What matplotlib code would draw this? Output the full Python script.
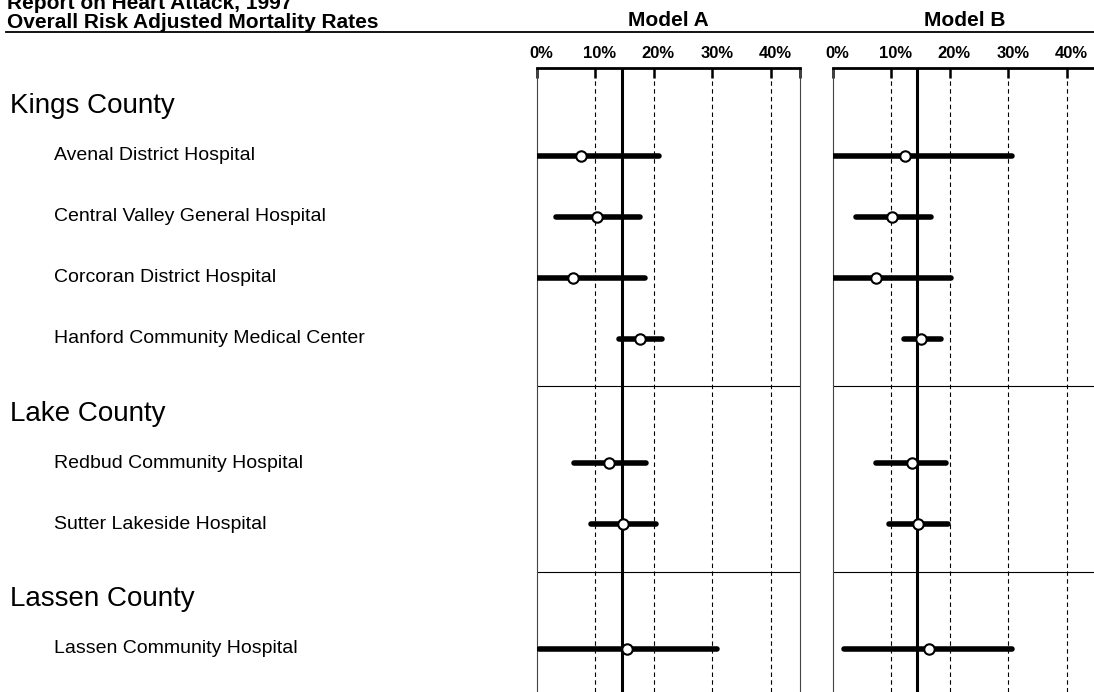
import matplotlib
matplotlib.use("Agg")
import matplotlib.pyplot as plt
from matplotlib.lines import Line2D
from matplotlib.transforms import blended_transform_factory, ScaledTranslation

plt.rcParams['font.family'] = ['Liberation Sans', 'DejaVu Sans']

# data (percent)
counties = ["Kings County", "Lake County", "Lassen County"]
hospitals = ["Avenal District Hospital",
             "Central Valley General Hospital",
             "Corcoran District Hospital",
             "Hanford Community Medical Center",
             "Redbud Community Hospital",
             "Sutter Lakeside Hospital",
             "Lassen Community Hospital"]
county_idx = [0, 0, 0, 0, 1, 1, 2]

rate_a = [7.6, 10.3, 6.1, 17.7, 12.4, 14.7, 15.4]
low_a = [0.0, 3.3, 0.0, 14.0, 6.3, 9.3, 0.3]
high_a = [20.8, 17.6, 18.4, 21.4, 18.6, 20.3, 30.8]

rate_b = [12.3, 10.1, 7.3, 15.1, 13.5, 14.6, 16.5]
low_b = [0.0, 3.9, 0.0, 12.1, 7.3, 9.5, 1.9]
high_b = [30.6, 16.7, 20.2, 18.4, 19.3, 19.6, 30.6]

state_avg = [14.6, 14.4]
models = ["Model A", "Model B"]
ticks = [0, 10, 20, 30, 40]

W, H = 1094, 692
fig = plt.figure(figsize=(W / 100, H / 100), dpi=100)


def px_axes(x0, x1, y0, y1):
    return fig.add_axes([x0 / W, 1 - y1 / H, (x1 - x0) / W, (y1 - y0) / H])


# row layout, one unit per hospital row
row_y = []
header_y = []
seps = []
start = 0.18
for c in range(len(counties)):
    header_y.append(start + 0.45)
    y = start + 1.26
    for i, ci in enumerate(county_idx):
        if ci == c:
            row_y.append(y)
            y += 1
    start = y - 1 + 0.78
    seps.append(start)
y_bottom = (H - 68) / 61.0

axA = px_axes(537, 800, 68, H)
axB = px_axes(833, 1096, 68, H)

for ax, rate, lo, hi, avg, name in [(axA, rate_a, low_a, high_a, state_avg[0], models[0]),
                                    (axB, rate_b, low_b, high_b, state_avg[1], models[1])]:
    ax.set_xlim(0, 45)
    ax.set_ylim(y_bottom, 0)
    for t in ticks[1:]:
        ax.axvline(t, color='black', lw=0.8, ls=(0, (4, 3)), zorder=1)
    ax.axvline(avg, color='black', lw=2.2, zorder=2)
    for s in seps[:-1]:
        ax.axhline(s, color='black', lw=0.8, zorder=1)
    ax.hlines(row_y, lo, hi, color='black', lw=4, capstyle='round', zorder=3)
    ax.plot(rate, row_y, 'o', ms=7.5, mfc='white', mec='black', mew=1.5, zorder=5)

    ax.spines['top'].set_linewidth(2)
    for side in ['left', 'right']:
        ax.spines[side].set_linewidth(0.8)
        ax.spines[side].set_color('#444444')
    ax.spines['bottom'].set_visible(False)
    ax.set_yticks([])
    ax.xaxis.tick_top()
    ax.set_xticks(ticks + [45])
    ax.set_xticklabels(["%d%%" % t for t in ticks] + [""])
    ax.tick_params(axis='x', direction='in', length=7, width=1.8, pad=5, labelsize=12)
    for lab in ax.get_xticklabels():
        lab.set_fontweight('bold')
        lab.set_transform(lab.get_transform() + ScaledTranslation(4.5 / 100, 0, fig.dpi_scale_trans))

    pos = ax.get_position()
    fig.text(pos.x0 + pos.width / 2, 1 - 26 / H, name, ha='center', va='baseline',
             fontsize=15, fontweight='bold')

# left side labels
trans = blended_transform_factory(fig.transFigure, axA.transData)
for c, name in enumerate(counties):
    axA.text(10 / W, header_y[c], name, transform=trans, fontsize=20,
             va='center', ha='left', clip_on=False)
for y, name in zip(row_y, hospitals):
    axA.text(54 / W, y, name, transform=trans, fontsize=14,
             va='center', ha='left', clip_on=False)

# title block
fig.text(7 / W, 1 - 9 / H, "Report on Heart Attack, 1997", fontsize=15,
         fontweight='bold', va='baseline')
fig.text(7 / W, 1 - 28 / H, "Overall Risk Adjusted Mortality Rates", fontsize=15,
         fontweight='bold', va='baseline')
fig.add_artist(Line2D([6 / W, 1], [1 - 31.5 / H] * 2, lw=1.3, color='black'))

fig.savefig("out.png", dpi=100)
